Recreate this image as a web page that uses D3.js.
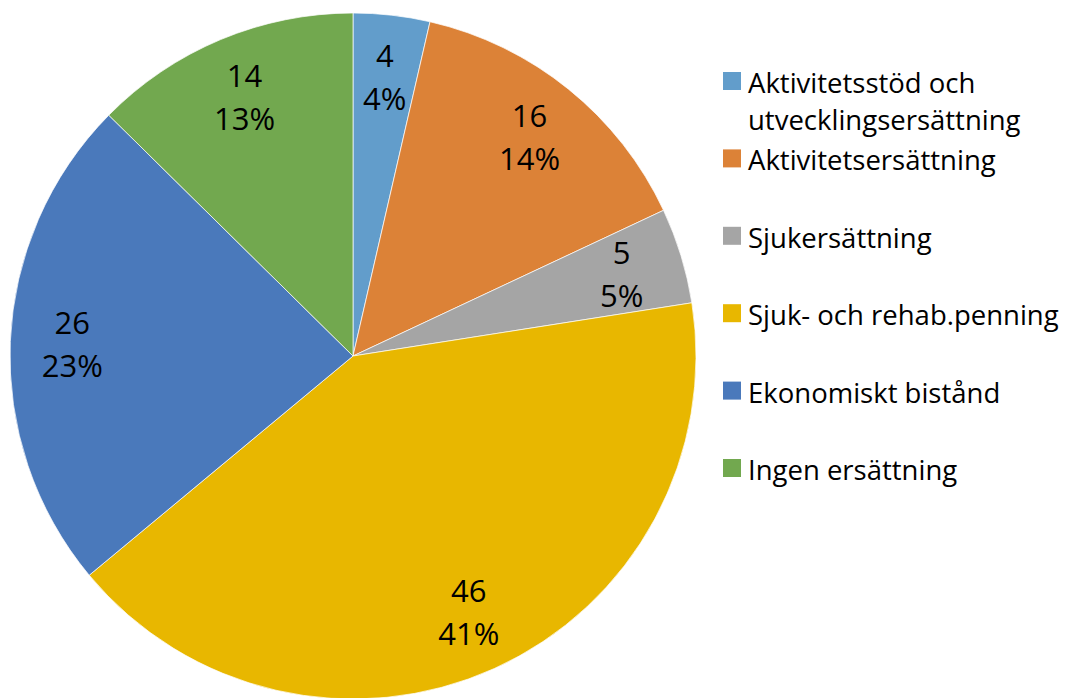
<!DOCTYPE html>
<html>
<head>
<meta charset="utf-8">
<script src="https://cdn.jsdelivr.net/npm/d3@7"></script>
<style>
  html, body { margin: 0; padding: 0; background: #fff; }
  svg { display: block; font-family: "Open Sans", Lato, sans-serif; }
</style>
</head>
<body>
<svg id="draw" width="1065" height="698"></svg>
<script>
let categories = ["Aktivitetsstöd och utvecklingsersättning", "Aktivitetsersättning", "Sjukersättning",
    "Sjuk- och rehab.penning", "Ekonomiskt bistånd", "Ingen ersättning"];
let legendLines = [["Aktivitetsstöd och", "utvecklingsersättning"], ["Aktivitetsersättning"], ["Sjukersättning"],
    ["Sjuk- och rehab.penning"], ["Ekonomiskt bistånd"], ["Ingen ersättning"]];
let values = [4, 16, 5, 46, 26, 14];
let percentLabels = ["4%", "14%", "5%", "41%", "23%", "13%"];
let colorList = ["#629dcb", "#dc8237", "#a5a5a5", "#e8b700", "#4a79bb", "#72a84f"];

let svg = d3.select("#draw");
let cx = 353, cy = 356, radius = 343;

let color = d3.scaleOrdinal().domain(categories).range(colorList);
let pie = d3.pie().sort(null).value(d => d.value);
let slices = pie(categories.map((c, i) => ({ name: c, value: values[i], pct: percentLabels[i] })));

let arc = d3.arc().innerRadius(0).outerRadius(radius);
let labelArc = d3.arc().innerRadius(281).outerRadius(281);

let g = svg.append("g").attr("transform", "translate(" + cx + "," + cy + ")");

g.selectAll("path")
    .data(slices)
    .enter()
    .append("path")
    .attr("d", arc)
    .attr("fill", d => color(d.data.name))
    .attr("stroke", "#fff")
    .attr("stroke-width", 0.7);

let labels = g.selectAll("text.lbl")
    .data(slices)
    .enter()
    .append("text")
    .attr("class", "lbl")
    .attr("text-anchor", "middle")
    .attr("font-size", 31)
    .attr("fill", "#000")
    .attr("transform", d => "translate(" + labelArc.centroid(d) + ")");
labels.append("tspan").attr("x", 0).attr("y", -10).text(d => d.data.value);
labels.append("tspan").attr("x", 0).attr("y", 33).text(d => d.data.pct);

// legend
let legend = svg.append("g").attr("transform", "translate(723, 72)");
let items = legend.selectAll("g")
    .data(categories)
    .enter()
    .append("g")
    .attr("transform", (d, i) => "translate(0," + (i * 77.4) + ")");
items.append("rect")
    .attr("width", 18)
    .attr("height", 18)
    .attr("fill", d => color(d));
let ltext = items.append("text")
    .attr("font-size", 27.5)
    .attr("fill", "#000");
ltext.selectAll("tspan")
    .data((d, i) => legendLines[i])
    .enter()
    .append("tspan")
    .attr("x", 25)
    .attr("y", (d, j) => 21 + j * 37)
    .text(d => d);
</script>
</body>
</html>
